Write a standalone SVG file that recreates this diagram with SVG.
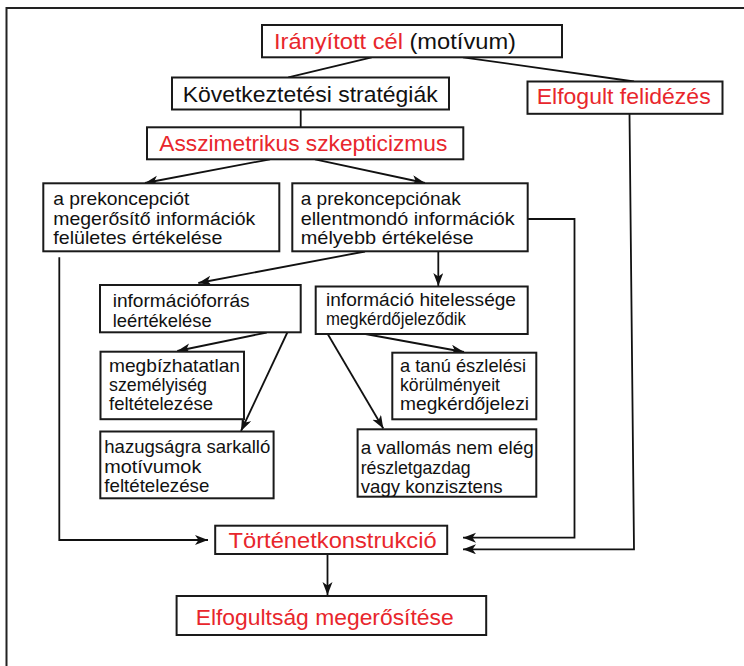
<svg xmlns="http://www.w3.org/2000/svg" width="744" height="666" viewBox="0 0 744 666">
  <defs>
    <marker id="arrow" markerUnits="userSpaceOnUse" markerWidth="14" markerHeight="12" refX="13" refY="5" orient="auto">
      <path d="M0,0 L13,5 L0,10 L3.5,5 z" fill="#111"/>
    </marker>
    <style>
      .frame { fill: none; stroke: #222; stroke-width: 2; }
      .box { fill: #fff; stroke: #1a1a1a; stroke-width: 2; }
      .lbl { font-family: "Liberation Sans", Arial, sans-serif; font-size: 22px; fill: #111; }
      .red { fill: #e8262c; }
      .txt { font-family: "Liberation Sans", Arial, sans-serif; font-size: 18.5px; fill: #111; }
      .conn { fill: none; stroke: #111; stroke-width: 1.8; }
      .arr { marker-end: url(#arrow); }
    </style>
  </defs>

  <rect x="0" y="0" width="744" height="666" fill="#fff"/>
  <rect class="frame" x="6.5" y="8" width="760" height="700"/>

  <!-- connectors -->
  <g id="connectors">
    <line class="conn" x1="371.7" y1="57.3" x2="288.3" y2="77.3"/>
    <line class="conn" x1="463" y1="57.3" x2="634" y2="81.5"/>
    <line class="conn" x1="300.7" y1="109.3" x2="300.7" y2="127.3"/>
    <line class="conn arr" x1="270" y1="159.3" x2="145" y2="183"/>
    <line class="conn arr" x1="315" y1="159.3" x2="425" y2="183"/>
    <path class="conn arr" d="M59.3,257.3 V540 H208"/>
    <path class="conn arr" d="M527.7,219 H574.5 V537.7 H463"/>
    <path class="conn arr" d="M629.5,113.5 L634,549.3 H463"/>
    <line class="conn arr" x1="365" y1="251.5" x2="198.3" y2="283"/>
    <line class="conn arr" x1="438.3" y1="251.5" x2="438.3" y2="286"/>
    <line class="conn arr" x1="266.7" y1="332.5" x2="177.3" y2="351"/>
    <line class="conn arr" x1="287.3" y1="332.5" x2="241" y2="431"/>
    <line class="conn arr" x1="365.5" y1="334" x2="464" y2="352"/>
    <line class="conn arr" x1="327.7" y1="334" x2="383.3" y2="428.5"/>
    <line class="conn arr" x1="327.5" y1="554" x2="327.5" y2="595"/>
  </g>

  <!-- nodes -->
  <g id="iranyitott-cel">
    <rect class="box" x="262" y="25" width="300" height="32.3"/>
    <text class="lbl" x="274" y="49" textLength="242" lengthAdjust="spacingAndGlyphs"><tspan class="red">Irányított cél</tspan> (motívum)</text>
  </g>

  <g id="kovetkeztetesi">
    <rect class="box" x="172" y="77.5" width="277" height="32"/>
    <text class="lbl" x="182.7" y="101.7" textLength="255" lengthAdjust="spacingAndGlyphs">Következtetési stratégiák</text>
  </g>

  <g id="elfogult-felidezes">
    <rect class="box" x="527.5" y="81.5" width="195" height="32.3"/>
    <text class="lbl red" x="536.7" y="104.3" textLength="174" lengthAdjust="spacingAndGlyphs">Elfogult felidézés</text>
  </g>

  <g id="asszimetrikus">
    <rect class="box" x="147" y="127.3" width="316.3" height="32"/>
    <text class="lbl red" x="159.3" y="150.7" textLength="288" lengthAdjust="spacingAndGlyphs">Asszimetrikus szkepticizmus</text>
  </g>

  <g id="feluletes">
    <rect class="box" x="43.3" y="183.3" width="236" height="68"/>
    <text class="txt" x="53.3" y="205" textLength="136" lengthAdjust="spacingAndGlyphs">a prekoncepciót</text>
    <text class="txt" x="53.3" y="225" textLength="202" lengthAdjust="spacingAndGlyphs">megerősítő információk</text>
    <text class="txt" x="53.3" y="244" textLength="169" lengthAdjust="spacingAndGlyphs">felületes értékelése</text>
  </g>

  <g id="melyebb">
    <rect class="box" x="292.3" y="183.3" width="235.4" height="68"/>
    <text class="txt" x="300.7" y="205" textLength="160" lengthAdjust="spacingAndGlyphs">a prekoncepciónak</text>
    <text class="txt" x="300.7" y="225" textLength="214" lengthAdjust="spacingAndGlyphs">ellentmondó információk</text>
    <text class="txt" x="300.7" y="244" textLength="173" lengthAdjust="spacingAndGlyphs">mélyebb értékelése</text>
  </g>

  <g id="informacioforras">
    <rect class="box" x="100" y="285" width="200.7" height="47.3"/>
    <text class="txt" x="112.7" y="307" textLength="137" lengthAdjust="spacingAndGlyphs">információforrás</text>
    <text class="txt" x="112.7" y="327" textLength="99" lengthAdjust="spacingAndGlyphs">leértékelése</text>
  </g>

  <g id="hitelesseg">
    <rect class="box" x="315.7" y="286.5" width="212" height="47.5"/>
    <text class="txt" x="326" y="305.5" textLength="190" lengthAdjust="spacingAndGlyphs">információ hitelessége</text>
    <text class="txt" x="326" y="325" textLength="140" lengthAdjust="spacingAndGlyphs">megkérdőjeleződik</text>
  </g>

  <g id="megbizhatatlan">
    <rect class="box" x="100.5" y="351.7" width="143.5" height="67.5"/>
    <text class="txt" x="109" y="372" textLength="131" lengthAdjust="spacingAndGlyphs">megbízhatatlan</text>
    <text class="txt" x="109" y="391" textLength="98" lengthAdjust="spacingAndGlyphs">személyiség</text>
    <text class="txt" x="109" y="410" textLength="104" lengthAdjust="spacingAndGlyphs">feltételezése</text>
  </g>

  <g id="tanu">
    <rect class="box" x="392.3" y="352.7" width="144" height="66.6"/>
    <text class="txt" x="400" y="372" textLength="126" lengthAdjust="spacingAndGlyphs">a tanú észlelési</text>
    <text class="txt" x="400" y="391" textLength="100" lengthAdjust="spacingAndGlyphs">körülményeit</text>
    <text class="txt" x="400" y="410" textLength="129" lengthAdjust="spacingAndGlyphs">megkérdőjelezi</text>
  </g>

  <g id="hazugsag">
    <rect class="box" x="100.3" y="431.5" width="173.3" height="66.8"/>
    <text class="txt" x="104.3" y="453" textLength="166" lengthAdjust="spacingAndGlyphs">hazugságra sarkalló</text>
    <text class="txt" x="104.3" y="472.5" textLength="97" lengthAdjust="spacingAndGlyphs">motívumok</text>
    <text class="txt" x="104.3" y="492" textLength="105" lengthAdjust="spacingAndGlyphs">feltételezése</text>
  </g>

  <g id="vallomas">
    <rect class="box" x="357.6" y="429.3" width="178.7" height="67.4"/>
    <text class="txt" x="360.7" y="454" textLength="173" lengthAdjust="spacingAndGlyphs">a vallomás nem elég</text>
    <text class="txt" x="360.7" y="473.5" textLength="110" lengthAdjust="spacingAndGlyphs">részletgazdag</text>
    <text class="txt" x="360.7" y="493" textLength="142" lengthAdjust="spacingAndGlyphs">vagy konzisztens</text>
  </g>

  <g id="tortenetkonstrukcio">
    <rect class="box" x="215.2" y="525.7" width="232" height="28.3"/>
    <text class="lbl red" x="228.6" y="548.3" textLength="208" lengthAdjust="spacingAndGlyphs">Történetkonstrukció</text>
  </g>

  <g id="elfogultsag-megerositese">
    <rect class="box" x="176.6" y="596" width="309.6" height="39"/>
    <text class="lbl red" x="195.7" y="625" textLength="258" lengthAdjust="spacingAndGlyphs">Elfogultság megerősítése</text>
  </g>
</svg>
